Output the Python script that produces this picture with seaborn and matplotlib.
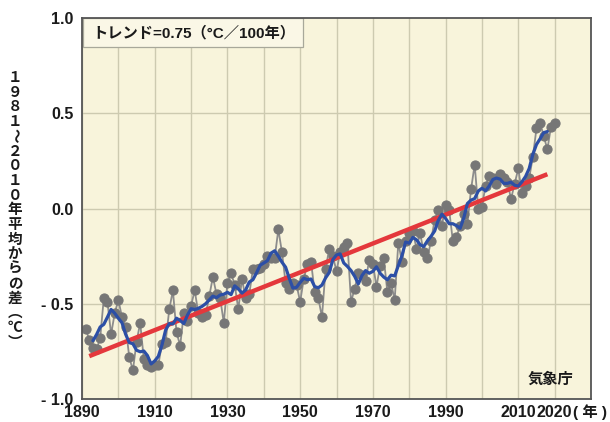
import matplotlib
matplotlib.use("Agg")
import matplotlib.pyplot as plt
from matplotlib.patches import Rectangle
import numpy as np
import pandas as pd
import seaborn as sns

# ---- data ----
years = list(range(1891, 2021))
anomaly = [
    -0.63, -0.69, -0.73, -0.74, -0.68, -0.47, -0.49, -0.66, -0.55, -0.48,
    -0.57, -0.62, -0.78, -0.85, -0.70, -0.60, -0.79, -0.82, -0.83, -0.82,
    -0.82, -0.71, -0.70, -0.53, -0.43, -0.65, -0.72, -0.55, -0.59, -0.51,
    -0.43, -0.55, -0.57, -0.56, -0.46, -0.36, -0.45, -0.47, -0.60, -0.39,
    -0.34, -0.40, -0.53, -0.37, -0.47, -0.45, -0.32, -0.32, -0.31, -0.29,
    -0.25, -0.26, -0.26, -0.11, -0.23, -0.39, -0.42, -0.39, -0.40, -0.49,
    -0.37, -0.29, -0.28, -0.44, -0.47, -0.57, -0.32, -0.21, -0.25, -0.33,
    -0.23, -0.20, -0.18, -0.49, -0.42, -0.34, -0.35, -0.38, -0.27, -0.29,
    -0.41, -0.30, -0.26, -0.44, -0.39, -0.48, -0.18, -0.28, -0.17, -0.13,
    -0.12, -0.21, -0.13, -0.23, -0.26, -0.17, -0.06, -0.01, -0.09, 0.02,
    -0.01, -0.17, -0.15, -0.09, -0.03, -0.08, 0.10, 0.23, 0.00, 0.01,
    0.12, 0.17, 0.16, 0.13, 0.18, 0.16, 0.14, 0.05, 0.13, 0.21,
    0.08, 0.12, 0.16, 0.27, 0.42, 0.45, 0.38, 0.31, 0.43, 0.45,
]
trend_years = [1892, 2018]
trend_values = [-0.775, 0.18]

xtick_values = list(range(1890, 2031, 10))
xtick_labels = ["1890", "", "1910", "", "1930", "", "1950", "", "1970", "",
                "1990", "", "2010", "2020", ""]
year_unit = "( 年 )"
ytick_values = [-1.0, -0.5, 0.0, 0.5, 1.0]
ytick_labels = ["- 1.0", "- 0.5", "0.0", "0.5", "1.0"]
ylabel_chars = ["１", "９", "８", "１", "～", "２", "０", "１", "０", "年", "平",
                "均", "か", "ら", "の", "差", "︵", "℃", "︶"]
trend_text = "トレンド=0.75（°C／100年）"
source_text = "気象庁"

df = pd.DataFrame({"year": years, "anomaly": anomaly})
df["mean5"] = df["anomaly"].rolling(5, center=True).mean()
trend_df = pd.DataFrame({"year": trend_years, "value": trend_values})

# ---- style ----
sns.set_style("white")
plt.rcParams["font.family"] = ["Liberation Sans", "Noto Sans CJK JP", "DejaVu Sans"]

W, H = 610, 422
fig = plt.figure(figsize=(W / 100, H / 100), dpi=100)
L, R, T, B = 82, 591, 18, 399
ax = fig.add_axes([L / W, 1 - B / H, (R - L) / W, (B - T) / H])
ax.set_facecolor("#f8f4db")

# grid
for xv in xtick_values:
    ax.axvline(xv, color="#cdcab0", lw=1.0, zorder=0)
for yv in [-0.5, 0.0, 0.5]:
    ax.axhline(yv, color="#cdcab0", lw=1.0, zorder=0)

# series
sns.lineplot(data=df, x="year", y="anomaly", ax=ax, color="#8c8c8c", lw=1.3,
             marker="o", markersize=6.6, markerfacecolor="#767676",
             markeredgecolor="#767676", zorder=2)
sns.lineplot(data=trend_df, x="year", y="value", ax=ax, color="#e4383c",
             lw=3.2, zorder=3, solid_capstyle="butt")
sns.lineplot(data=df.dropna(), x="year", y="mean5", ax=ax, color="#2c4fa6",
             lw=2.3, zorder=4)

ax.set_xlim(1890, 2030)
ax.set_ylim(-1.0, 1.0)
ax.set_xlabel("")
ax.set_ylabel("")
ax.set_xticks(xtick_values)
ax.set_xticklabels(xtick_labels)
ax.set_yticks(ytick_values)
ax.set_yticklabels(ytick_labels)
ax.tick_params(axis="both", length=0, labelsize=11.5, colors="#1a1a1a")
ax.tick_params(axis="x", pad=4)
ax.tick_params(axis="y", pad=6)
for lab in ax.get_xticklabels() + ax.get_yticklabels():
    lab.set_fontweight("bold")
for sp in ax.spines.values():
    sp.set_color("#555555")
    sp.set_linewidth(1.3)
    sp.set_zorder(6)

# year unit label, right of the last tick label
fig.text(573 / W, 1 - 412 / H, year_unit, ha="left", va="center",
         fontsize=11, fontweight="bold", color="#1a1a1a")

# trend box
bx0 = (83 - L) / (R - L)
bw = (303 - 83) / (R - L)
bh = (47 - T) / (B - T)
ax.add_patch(Rectangle((bx0, 1 - bh), bw, bh, transform=ax.transAxes,
                       facecolor="#faf7e6", edgecolor="#a8a89a", lw=0.9, zorder=5))
ax.text((92 - L) / (R - L), 1 - (33 - T) / (B - T), trend_text,
        transform=ax.transAxes, ha="left", va="center", fontsize=11,
        fontweight="bold", color="#1a1a1a", zorder=7)

# source
ax.text((551 - L) / (R - L), 1 - (380 - T) / (B - T), source_text,
        transform=ax.transAxes, ha="center", va="center", fontsize=11,
        fontweight="bold", color="#1a1a1a", zorder=7)

# vertical y-label (stacked upright characters; the wave dash turned upright)
y0, step = 77, 14.7
for i, ch in enumerate(ylabel_chars):
    fig.text(15 / W, 1 - (y0 + i * step) / H, ch, ha="center", va="center",
             fontsize=10.5, fontweight="bold", color="#1a1a1a",
             rotation=(-90 if ch == "～" else 0),
             family=["Noto Sans CJK JP", "DejaVu Sans"])

fig.savefig("out.png", dpi=100, facecolor="white")
